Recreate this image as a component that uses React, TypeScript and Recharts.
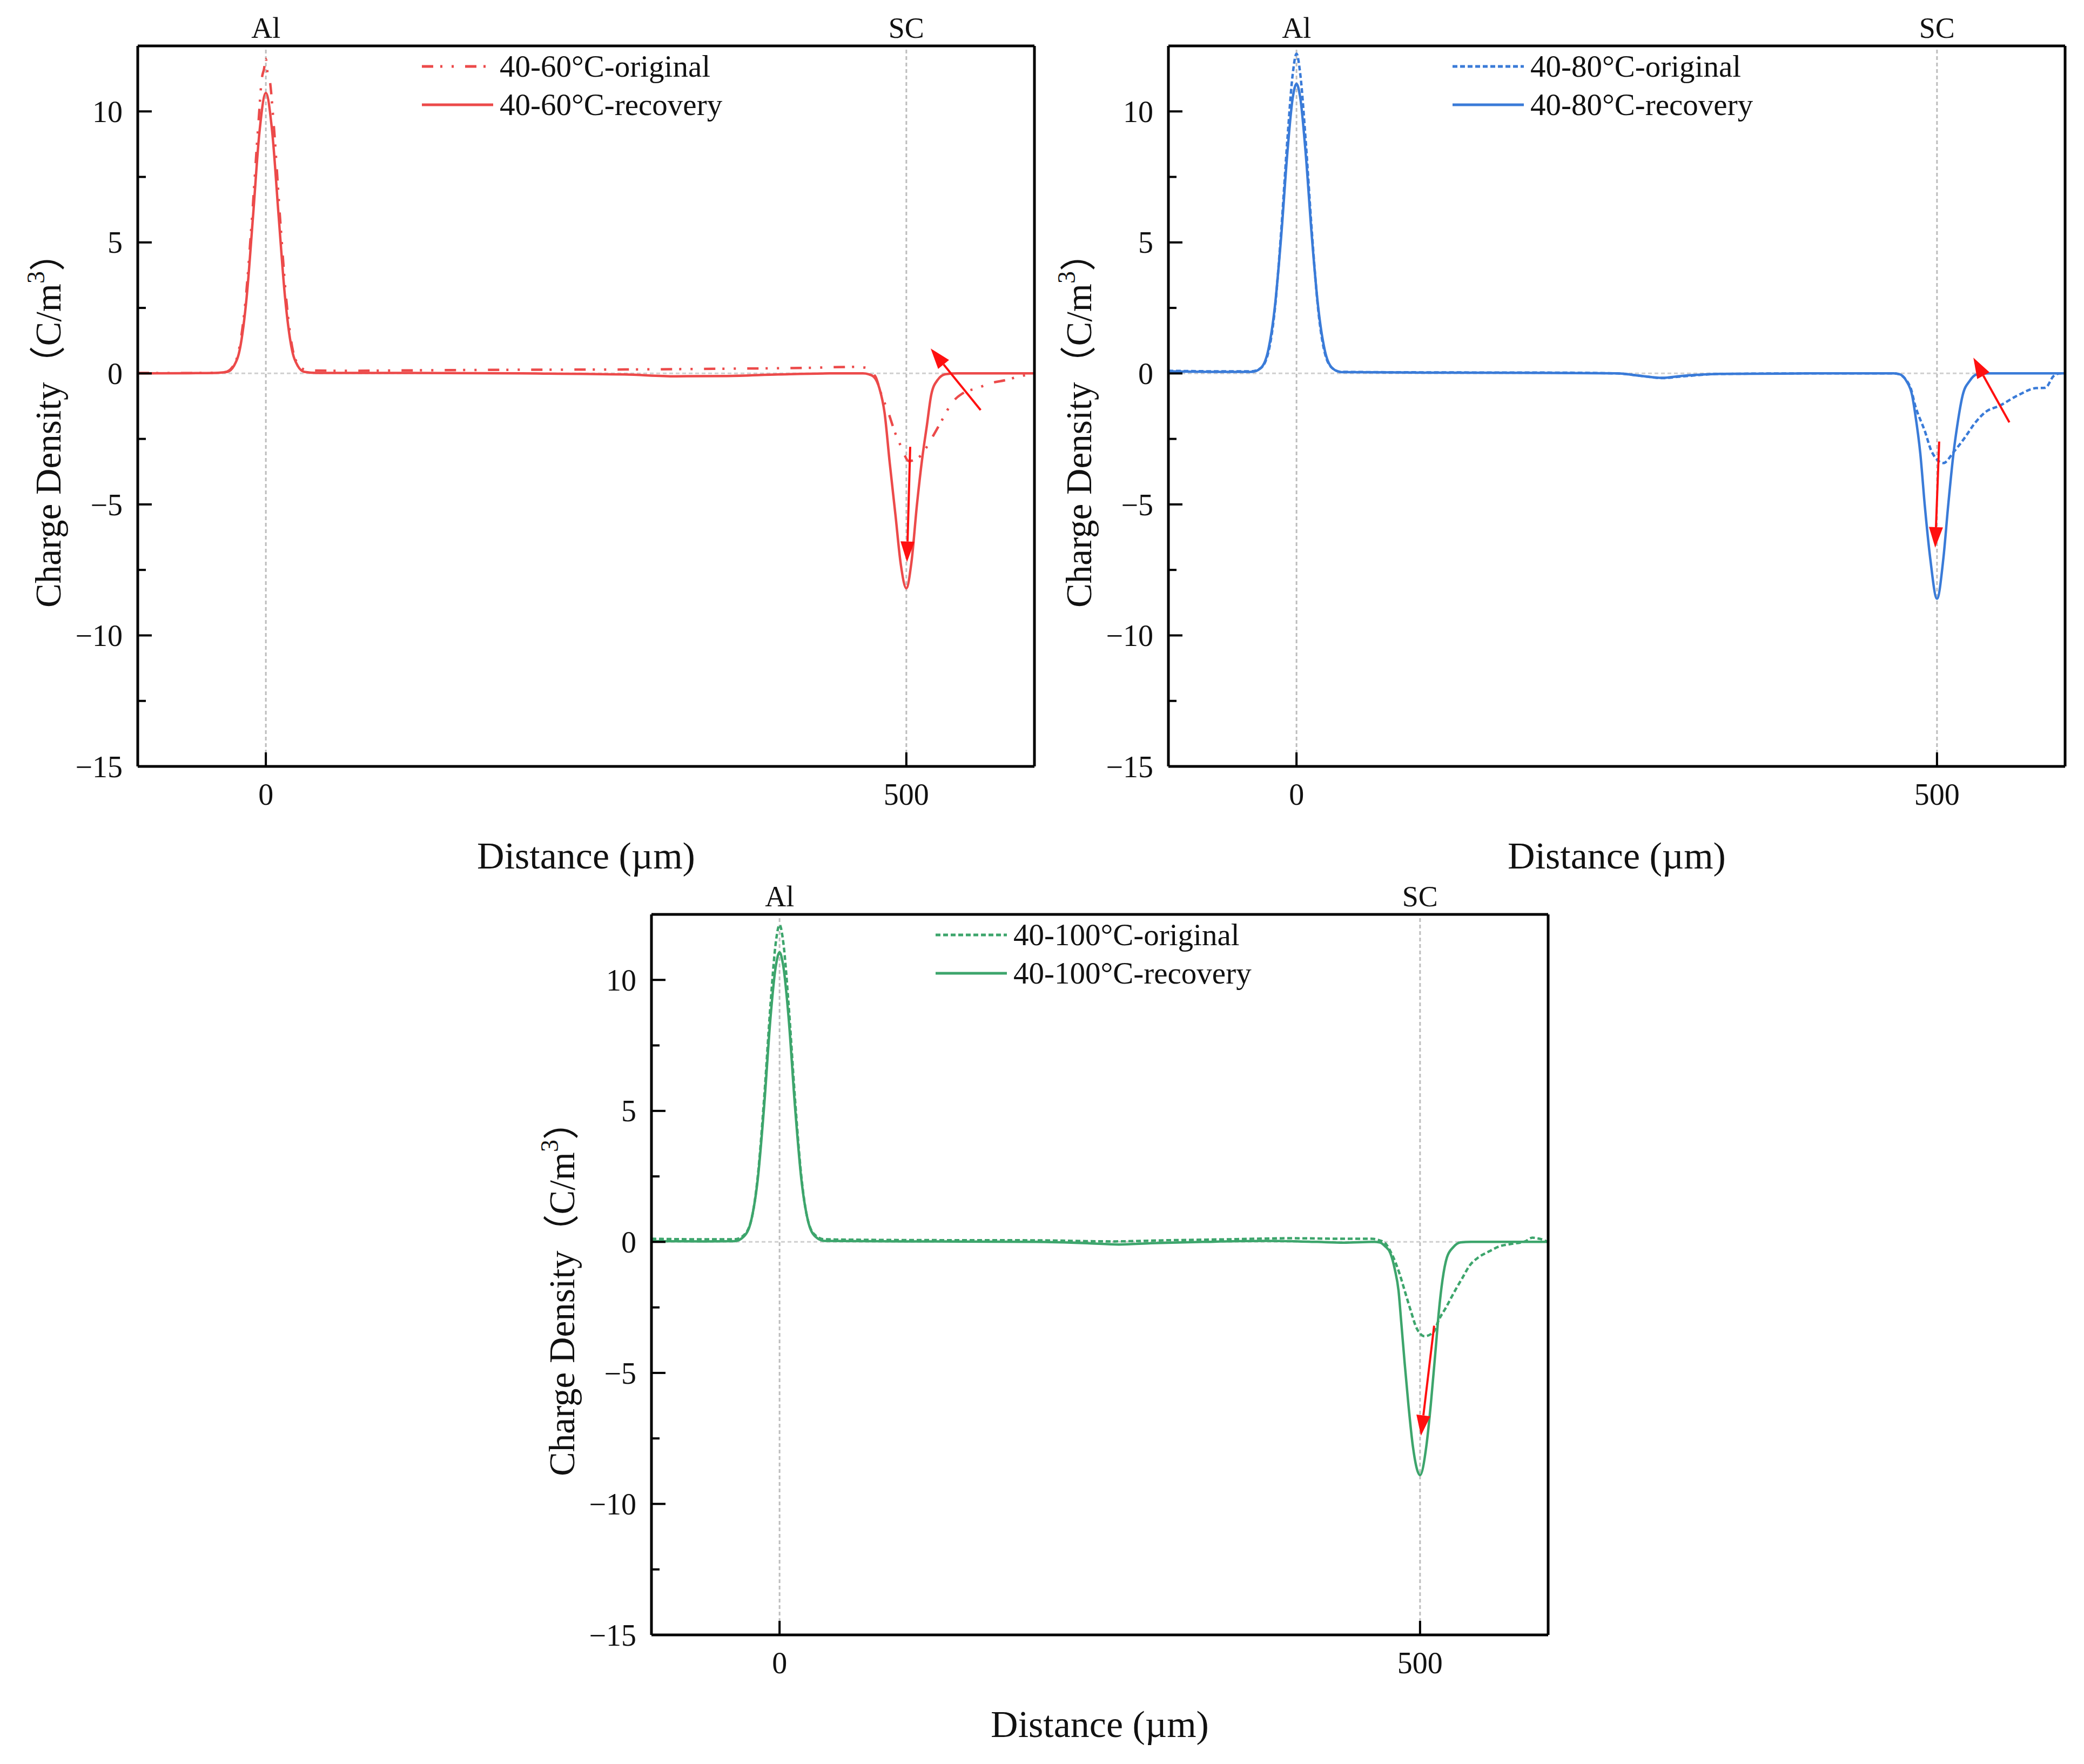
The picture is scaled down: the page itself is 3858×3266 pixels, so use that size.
import React from "react";
import { LineChart, Line, XAxis, YAxis, ReferenceLine, Legend } from "recharts";

const FONT = "'Liberation Serif', 'Times New Roman', 'Noto Sans CJK SC', serif";

// ---------- axes ----------
const xDomain = [-100, 600];
const yDomain = [-15, 12.5];
const xTicks = [0, 500];
const topTickLabels = ["Al", "SC"];
const yTicks = [-15, -12.5, -10, -7.5, -5, -2.5, 0, 2.5, 5, 7.5, 10];
const xTitle = "Distance (µm)";

// ---------- 40-60 °C ----------
const orig60 = [
  [-100, 0.02], [-70, 0.01], [-45, 0.02], [-32, 0.05], [-26, 0.25], [-21, 0.9], [-16, 2.7], [-11, 5.8],
  [-6, 9.4], [-3, 11.3], [-1.5, 11.6], [0, 12.0], [1.5, 11.4], [3, 11.2], [6, 9.6], [11, 6.0], [16, 2.8],
  [21, 0.9], [26, 0.3], [32, 0.12], [60, 0.1], [120, 0.12], [200, 0.14], [280, 0.15], [360, 0.18],
  [420, 0.21], [460, 0.25], [468, 0.22], [472, 0.05], [476, -0.13], [480, -0.73], [486, -1.5],
  [491.5, -2.3], [496, -2.8], [502, -3.35], [506, -3.3], [511, -3.15], [519.5, -2.5], [526.5, -1.9],
  [536, -1.1], [545, -0.73], [555, -0.57], [566, -0.37], [578, -0.25], [587, -0.13], [595, -0.05], [600, 0],
];
const rec60 = [
  [-100, 0], [-60, 0.01], [-40, 0.02], [-30, 0.06], [-25, 0.28], [-20, 1.0], [-15, 2.9], [-10, 6.0],
  [-5, 9.2], [0, 10.7], [5, 9.2], [10, 6.0], [15, 2.9], [20, 1.0], [25, 0.28], [30, 0.06], [40, 0.02],
  [100, 0.02], [200, 0.0], [280, -0.04], [320, -0.11], [360, -0.1], [400, -0.04], [440, 0], [466, 0],
  [470.5, -0.03], [474.6, -0.13], [479, -0.57], [483, -1.5], [487, -3.4], [491.5, -5.4], [495.7, -7.3],
  [500, -8.2], [504, -7.2], [508.3, -5.0], [512.5, -3.2], [516, -2.0], [519.5, -0.8], [524.4, -0.25],
  [530.7, -0.03], [540, 0], [600, 0],
];
const arrows60 = [
  [[503, -2.8], [500.5, -7.2]],
  [[558, -1.4], [519, 0.95]],
];

// ---------- 40-80 °C ----------
const orig80 = [
  [-100, 0.1], [-60, 0.08], [-35, 0.08], [-28, 0.2], [-22, 0.8], [-17, 2.4], [-12, 5.4], [-7, 9.0],
  [-3, 11.4], [0, 12.2], [3, 11.4], [7, 9.0], [12, 5.4], [17, 2.4], [22, 0.8], [28, 0.2], [35, 0.06],
  [100, 0.04], [200, 0.03], [250, 0.0], [270, -0.1], [285, -0.18], [300, -0.12], [330, -0.02], [400, 0.0],
  [465, 0.0], [469.4, -0.02], [479, -0.5], [483, -1.23], [490.5, -2.2], [496, -3.0], [505, -3.42],
  [513, -3.0], [521, -2.5], [530, -1.87], [538, -1.47], [549, -1.23], [563, -0.84], [577.5, -0.56],
  [584.5, -0.55], [591, -0.1], [596, 0], [600, 0],
];
const rec80 = [
  [-100, 0.08], [-60, 0.06], [-35, 0.06], [-28, 0.2], [-22, 0.9], [-17, 2.5], [-12, 5.2], [-7, 8.5],
  [-3, 10.5], [0, 11.05], [3, 10.5], [7, 8.5], [12, 5.2], [17, 2.5], [22, 0.9], [28, 0.2], [35, 0.05],
  [100, 0.03], [200, 0.02], [250, 0.0], [270, -0.1], [285, -0.17], [300, -0.1], [330, -0.02], [400, 0],
  [466, 0], [470.8, -0.03], [476, -0.28], [480.6, -0.84], [483, -1.55], [487, -3.07], [490.5, -5.06],
  [494.7, -7.05], [500, -8.6], [505, -7.05], [508.7, -5.06], [513, -3.0], [515.7, -2.03], [520, -0.84],
  [525.6, -0.28], [531, -0.04], [540, 0], [600, 0],
];
const arrows80 = [
  [[501.7, -2.6], [498.6, -6.65]],
  [[556.5, -1.87], [528.4, 0.6]],
];

// ---------- 40-100 °C ----------
const orig100 = [
  [-100, 0.12], [-60, 0.1], [-35, 0.1], [-28, 0.25], [-22, 0.85], [-17, 2.5], [-12, 5.5], [-7, 9.1],
  [-3, 11.4], [0, 12.1], [3, 11.4], [7, 9.1], [12, 5.5], [17, 2.5], [22, 0.85], [28, 0.25], [35, 0.1],
  [100, 0.07], [200, 0.06], [260, 0.02], [300, 0.06], [350, 0.1], [400, 0.14], [440, 0.12], [462, 0.12],
  [467, 0.08], [472.6, -0.04], [478.3, -0.5], [483.9, -1.2], [488, -1.86], [492.9, -2.65], [497.2, -3.28],
  [503.5, -3.6], [510.5, -3.44], [514.7, -2.97], [520.3, -2.5], [527.3, -1.86], [533, -1.38],
  [538.6, -0.91], [545.6, -0.59], [554, -0.36], [562.4, -0.16], [570.8, -0.08], [582, 0.02],
  [587.7, 0.16], [593.3, 0.12], [600, 0.0],
];
const rec100 = [
  [-100, 0.03], [-60, 0.02], [-35, 0.03], [-28, 0.2], [-22, 0.85], [-17, 2.4], [-12, 5.2], [-7, 8.6],
  [-3, 10.5], [0, 11.05], [3, 10.5], [7, 8.6], [12, 5.2], [17, 2.4], [22, 0.85], [28, 0.2], [35, 0.04],
  [100, 0.02], [200, 0.0], [240, -0.05], [265, -0.1], [290, -0.05], [330, 0.0], [380, 0.04], [420, 0.0],
  [440, -0.03], [464, 0], [468.4, -0.02], [472.6, -0.16], [476.9, -0.44], [480.4, -1.07], [483.2, -1.86],
  [485.3, -3.05], [488, -4.63], [490.9, -6.2], [494.4, -7.8], [500, -8.9], [504.9, -7.8], [508.4, -6.2],
  [512, -4.2], [514.7, -2.65], [517.5, -1.46], [521, -0.59], [526, -0.2], [531.6, -0.02], [540, 0], [600, 0],
];
const arrows100 = [
  [[511, -3.2], [500.7, -7.4]],
];

const panels = [
  {
    id: "p60", left: 0, top: 0, color: "#EC4A4A", dash: "21 13 4 17 4 21",
    origName: "40-60°C-original", recName: "40-60°C-recovery",
    orig: orig60, rec: rec60, arrows: arrows60,
  },
  {
    id: "p80", left: 1908, top: 0, color: "#3A7BD8", dash: "9 5",
    origName: "40-80°C-original", recName: "40-80°C-recovery",
    orig: orig80, rec: rec80, arrows: arrows80,
  },
  {
    id: "p100", left: 951, top: 1608, color: "#3DA56C", dash: "9 5",
    origName: "40-100°C-original", recName: "40-100°C-recovery",
    orig: orig100, rec: rec100, arrows: arrows100,
  },
];

const toPts = (arr: number[][]) => arr.map(([x, y]) => ({ x, y }));
const fmt = (v: number) => (v < 0 ? "\u2212" + Math.abs(v) : String(v));

const CHART_W = 1950;
const CHART_H = 1650;
const LEFT_W = 255;
const TOP_H = 85;
const RIGHT_W = 35;
const BOTTOM_H = 231;

const YTick = (props: any) => {
  const { x, y, payload } = props;
  const v = payload.value;
  const major = Math.abs(v % 5) < 1e-9;
  return (
    <g>
      <line x1={x} y1={y} x2={x + (major ? 26 : 15)} y2={y} stroke="#000" strokeWidth={4} />
      {major && (
        <text x={x - 28} y={y} dy="0.35em" textAnchor="end" fontSize={56} fontFamily={FONT} fill="#111">
          {fmt(v)}
        </text>
      )}
    </g>
  );
};

const XTick = (props: any) => {
  const { x, y, payload } = props;
  return (
    <g>
      <line x1={x} y1={y} x2={x} y2={y - 26} stroke="#000" strokeWidth={4} />
      <text x={x} y={y + 71} textAnchor="middle" fontSize={56} fontFamily={FONT} fill="#111">
        {fmt(payload.value)}
      </text>
    </g>
  );
};

const TopTick = (props: any) => {
  const { x, y, payload, index } = props;
  const i = xTicks.indexOf(payload.value);
  return (
    <text x={x} y={y - 15} textAnchor="middle" fontSize={54} fontFamily={FONT} fill="#111">
      {topTickLabels[i >= 0 ? i : index]}
    </text>
  );
};

const XTitle = (props: any) => {
  const vb = props.viewBox || { x: LEFT_W, y: CHART_H - BOTTOM_H, width: CHART_W - LEFT_W - RIGHT_W };
  return (
    <text x={vb.x + vb.width / 2} y={vb.y + 189} textAnchor="middle" fontSize={70} fontFamily={FONT} fill="#111">
      {xTitle}
    </text>
  );
};

const YTitle = () => {
  const cy = TOP_H + (CHART_H - TOP_H - BOTTOM_H) / 2 + 28;
  return (
    <text transform={`translate(112, ${cy}) rotate(-90)`} textAnchor="middle" fontSize={67} fontFamily={FONT} fill="#111">
      <tspan>Charge Density</tspan>
      <tspan>（C/m</tspan>
      <tspan fontSize={46} dy={-30}>3</tspan>
      <tspan dy={30}>）</tspan>
    </text>
  );
};

const Arrow = (p: any) => {
  const { x1, y1, x2, y2 } = p;
  const dx = x2 - x1;
  const dy = y2 - y1;
  const len = Math.hypot(dx, dy) || 1;
  const ux = dx / len;
  const uy = dy / len;
  const hl = 38;
  const hw = 13;
  const bx = x2 - ux * hl;
  const by = y2 - uy * hl;
  return (
    <g>
      <line x1={x1} y1={y1} x2={bx} y2={by} stroke="#FF1010" strokeWidth={4} />
      <polygon
        points={`${x2},${y2} ${bx - uy * hw},${by + ux * hw} ${bx + uy * hw},${by - ux * hw}`}
        fill="#FF1010"
      />
    </g>
  );
};

const LegendBox = ({ color, dash, origName, recName }: any) => {
  const rows = [
    { name: origName, dash },
    { name: recName, dash: undefined },
  ];
  return (
    <div style={{ fontFamily: FONT, fontSize: 57, color: "#111" }}>
      {rows.map((r) => (
        <div key={r.name} style={{ display: "flex", alignItems: "center", height: 71 }}>
          <svg width={144} height={12} style={{ flex: "none" }}>
            <line x1={0} y1={6} x2={132} y2={6} stroke={color} strokeWidth={5} strokeDasharray={r.dash} />
          </svg>
          <span style={{ whiteSpace: "nowrap", lineHeight: "71px" }}>{r.name}</span>
        </div>
      ))}
    </div>
  );
};

const Panel = ({ p }: any) => (
  <div style={{ position: "absolute", left: p.left, top: p.top }}>
    <LineChart width={CHART_W} height={CHART_H} margin={{ top: 0, right: 0, bottom: 0, left: 0 }}>
      <XAxis
        dataKey="x"
        type="number"
        domain={xDomain}
        ticks={xTicks}
        interval={0}
        allowDataOverflow
        height={BOTTOM_H}
        tickSize={0}
        tickMargin={0}
        tickLine={false}
        axisLine={{ stroke: "#000", strokeWidth: 5 }}
        tick={<XTick />}
        label={<XTitle />}
      />
      <XAxis
        xAxisId="top"
        orientation="top"
        dataKey="x"
        type="number"
        domain={xDomain}
        ticks={xTicks}
        interval={0}
        allowDataOverflow
        height={TOP_H}
        tickSize={0}
        tickMargin={0}
        tickLine={false}
        axisLine={{ stroke: "#000", strokeWidth: 5 }}
        tick={<TopTick />}
      />
      <YAxis
        type="number"
        domain={yDomain}
        ticks={yTicks}
        interval={0}
        allowDataOverflow
        width={LEFT_W}
        tickSize={0}
        tickMargin={0}
        tickLine={false}
        axisLine={{ stroke: "#000", strokeWidth: 5 }}
        tick={<YTick />}
        label={<YTitle />}
      />
      <YAxis
        yAxisId="right"
        orientation="right"
        type="number"
        domain={yDomain}
        allowDataOverflow
        width={RIGHT_W}
        tick={false}
        tickLine={false}
        axisLine={{ stroke: "#000", strokeWidth: 5 }}
      />
      <ReferenceLine x={0} stroke="#BDBDBD" strokeWidth={3} strokeDasharray="7 5" zIndex={-50} />
      <ReferenceLine x={500} stroke="#BDBDBD" strokeWidth={3} strokeDasharray="7 5" zIndex={-50} />
      <ReferenceLine y={0} stroke="#CFCFCF" strokeWidth={3} strokeDasharray="7 5" zIndex={-50} />
      <Line
        data={toPts(p.orig)}
        dataKey="y"
        name={p.origName}
        type="monotone"
        stroke={p.color}
        strokeWidth={4.5}
        strokeDasharray={p.dash}
        dot={false}
        activeDot={false}
        isAnimationActive={false}
      />
      <Line
        data={toPts(p.rec)}
        dataKey="y"
        name={p.recName}
        type="monotone"
        stroke={p.color}
        strokeWidth={4.5}
        dot={false}
        activeDot={false}
        isAnimationActive={false}
      />
      {p.arrows.map((a: number[][], i: number) => (
        <ReferenceLine
          key={`a${i}`}
          segment={[{ x: a[0][0], y: a[0][1] }, { x: a[1][0], y: a[1][1] }]}
          shape={Arrow}
          ifOverflow="visible"
          zIndex={1000}
        />
      ))}
      <Legend
        layout="vertical"
        align="center"
        verticalAlign="middle"
        wrapperStyle={{ position: "absolute", left: 781, top: 87, width: 900, height: 142 }}
        content={() => <LegendBox color={p.color} dash={p.dash} origName={p.origName} recName={p.recName} />}
      />
    </LineChart>
  </div>
);

export default function App() {
  return (
    <div
      style={{
        position: "absolute",
        left: 0,
        top: 0,
        width: 3858,
        height: 3266,
        overflow: "hidden",
        background: "#fff",
      }}
    >
      {panels.map((p) => (
        <Panel key={p.id} p={p} />
      ))}
    </div>
  );
}
